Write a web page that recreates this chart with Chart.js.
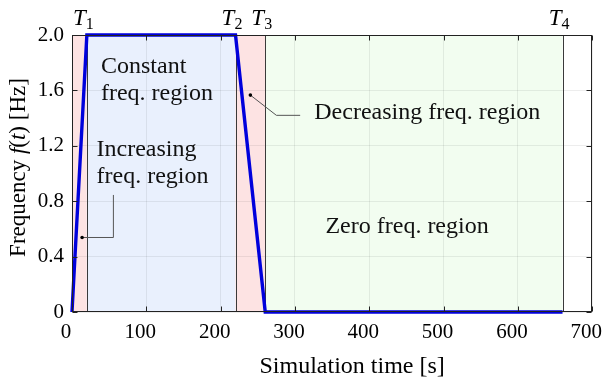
<!DOCTYPE html>
<html>
<head>
<meta charset="utf-8">
<script src="https://cdn.jsdelivr.net/npm/chart.js@4.4.0/dist/chart.umd.min.js"></script>
<style>
  html, body { margin: 0; padding: 0; background: #fff; }
  #wrap { width: 616px; height: 387px; }
</style>
</head>
<body>
<div id="wrap"><canvas id="chart-freq"></canvas></div>
<script>
// --- data ---
const timeS = [0, 20, 220, 260, 660];
const freqHz = [0, 2, 2, 0, 0];
const xTicks = [0, 100, 200, 300, 400, 500, 600, 700];
const yTicks = [0, 0.4, 0.8, 1.2, 1.6, 2.0];
const phaseTimes = [20, 220, 260, 660];
const phaseLabels = ['1', '2', '3', '4'];
const bandStart = [0, 20, 220, 260];
const bandEnd = [20, 220, 260, 660];

// annotation texts, anchored in data units (time, freq)
const noteText = [
  ['Constant', 'freq. region'],
  ['Increasing', 'freq. region'],
  ['Decreasing freq. region'],
  ['Zero freq. region']
];
const noteAt = [[39, 1.725], [33, 1.125], [326, 1.39], [341, 0.57]];
// leader lines: dot first, then the elbow points
const leaders = [
  [[13.6, 0.538], [55.7, 0.538], [55.7, 0.845]],
  [[240, 1.566], [275, 1.42], [307, 1.42]]
];

const bandColors = ['rgb(253,227,227)', 'rgb(233,240,253)', 'rgb(253,227,227)', 'rgb(242,253,240)'];
const SERIF = '"Liberation Serif", serif';

Chart.defaults.font.family = SERIF;
Chart.defaults.color = '#000';

function drawParts(ctx, parts, cx, y) {
  let total = 0;
  parts.forEach(p => { ctx.font = p[1]; total += ctx.measureText(p[0]).width; });
  let x = cx - total / 2;
  ctx.textAlign = 'left';
  parts.forEach(p => {
    ctx.font = p[1];
    ctx.fillText(p[0], x, y + (p[2] || 0));
    x += ctx.measureText(p[0]).width;
  });
}

const freqPlugin = {
  id: 'freqDecor',
  beforeDraw(chart) {
    const { ctx, chartArea: a, scales: { x } } = chart;
    ctx.save();
    bandStart.forEach((s, i) => {
      const x0 = x.getPixelForValue(s), x1 = x.getPixelForValue(bandEnd[i]);
      ctx.fillStyle = bandColors[i];
      ctx.fillRect(x0, a.top, x1 - x0, a.bottom - a.top);
    });
    ctx.restore();
  },
  beforeDatasetsDraw(chart) {
    const { ctx, chartArea: a, scales: { x, y } } = chart;
    ctx.save();
    // phase boundaries
    ctx.strokeStyle = '#3a3a3a';
    ctx.lineWidth = 1;
    phaseTimes.forEach(t => {
      const px = Math.round(x.getPixelForValue(t)) + 0.5;
      ctx.beginPath();
      ctx.moveTo(px, a.top);
      ctx.lineTo(px, a.bottom);
      ctx.stroke();
    });
    // leader lines
    leaders.forEach(pts => {
      ctx.strokeStyle = '#555';
      ctx.beginPath();
      pts.forEach((p, i) => {
        const px = x.getPixelForValue(p[0]), py = y.getPixelForValue(p[1]);
        if (i === 0) ctx.moveTo(px, py); else ctx.lineTo(px, py);
      });
      ctx.stroke();
      ctx.fillStyle = '#000';
      ctx.beginPath();
      ctx.arc(x.getPixelForValue(pts[0][0]), y.getPixelForValue(pts[0][1]), 1.8, 0, Math.PI * 2);
      ctx.fill();
    });
    // annotation texts
    ctx.fillStyle = '#111';
    ctx.font = '24px ' + SERIF;
    ctx.textAlign = 'left';
    ctx.textBaseline = 'alphabetic';
    noteText.forEach((lines, i) => {
      const px = x.getPixelForValue(noteAt[i][0]);
      const py = y.getPixelForValue(noteAt[i][1]);
      lines.forEach((ln, j) => ctx.fillText(ln, px, py + j * 26.5));
    });
    ctx.restore();
  },
  afterDraw(chart) {
    const { ctx, chartArea: a, scales: { x, y } } = chart;
    ctx.save();
    // axes box with inward ticks
    ctx.strokeStyle = '#222';
    ctx.lineWidth = 1;
    const L = Math.round(a.left) + 0.5, R = Math.round(a.right) - 0.5;
    const T = Math.round(a.top) + 0.5, B = Math.round(a.bottom) - 0.5;
    ctx.strokeRect(L, T, R - L, B - T);
    ctx.beginPath();
    xTicks.forEach(v => {
      const px = Math.round(x.getPixelForValue(v)) + 0.5;
      ctx.moveTo(px, B); ctx.lineTo(px, B - 5);
      ctx.moveTo(px, T); ctx.lineTo(px, T + 5);
    });
    yTicks.forEach(v => {
      const py = Math.round(y.getPixelForValue(v)) + 0.5;
      ctx.moveTo(L, py); ctx.lineTo(L + 5, py);
      ctx.moveTo(R, py); ctx.lineTo(R - 5, py);
    });
    ctx.stroke();

    ctx.fillStyle = '#000';
    ctx.textBaseline = 'alphabetic';
    // T labels over the boundaries
    phaseTimes.forEach((t, i) => {
      const px = x.getPixelForValue(t) - 3.5;
      drawParts(ctx, [['T', 'italic 23px ' + SERIF], [phaseLabels[i], '16px ' + SERIF, 4]], px, 25);
    });
    // x title
    drawParts(ctx, [['Simulation time [s]', '24px ' + SERIF]], (a.left + a.right) / 2 + 20, 373);
    // y title, rotated
    ctx.translate(25, (a.top + a.bottom) / 2 - 6);
    ctx.rotate(-Math.PI / 2);
    drawParts(ctx, [
      ['Frequency ', '23px ' + SERIF],
      ['f', 'italic 23px ' + SERIF],
      ['(', '23px ' + SERIF],
      ['t', 'italic 23px ' + SERIF],
      [')', '23px ' + SERIF],
      [' [Hz]', '23px ' + SERIF]
    ], 0, 0);
    ctx.restore();
  }
};

new Chart(document.getElementById('chart-freq'), {
  type: 'scatter',
  data: {
    datasets: [{
      data: timeS.map((t, i) => ({ x: t, y: freqHz[i] })),
      showLine: true,
      borderColor: '#0000dc',
      borderWidth: 3.4,
      pointRadius: 0,
      tension: 0,
      clip: false
    }]
  },
  options: {
    responsive: true,
    maintainAspectRatio: false,
    animation: false,
    layout: { padding: { top: 35, right: 19, left: 0, bottom: 0 } },
    plugins: { legend: { display: false }, tooltip: { enabled: false } },
    scales: {
      x: {
        type: 'linear',
        min: 0,
        max: 700,
        afterBuildTicks: s => { s.ticks = xTicks.map(v => ({ value: v })); },
        afterFit: s => { s.height = 75; },
        grid: { color: 'rgba(0,0,0,0.07)', drawTicks: false },
        border: { display: false },
        ticks: { padding: 8, labelOffset: -6, font: { size: 21 }, color: '#000', maxRotation: 0 }
      },
      y: {
        min: 0,
        max: 2,
        afterBuildTicks: s => { s.ticks = yTicks.map(v => ({ value: v })); },
        afterFit: s => { s.width = 72; },
        grid: { color: 'rgba(0,0,0,0.07)', drawTicks: false },
        border: { display: false },
        ticks: {
          padding: 8,
          font: { size: 21 },
          color: '#000',
          callback: v => v === 0 ? '0' : v.toFixed(1)
        }
      }
    }
  },
  plugins: [freqPlugin]
});
</script>
</body>
</html>
